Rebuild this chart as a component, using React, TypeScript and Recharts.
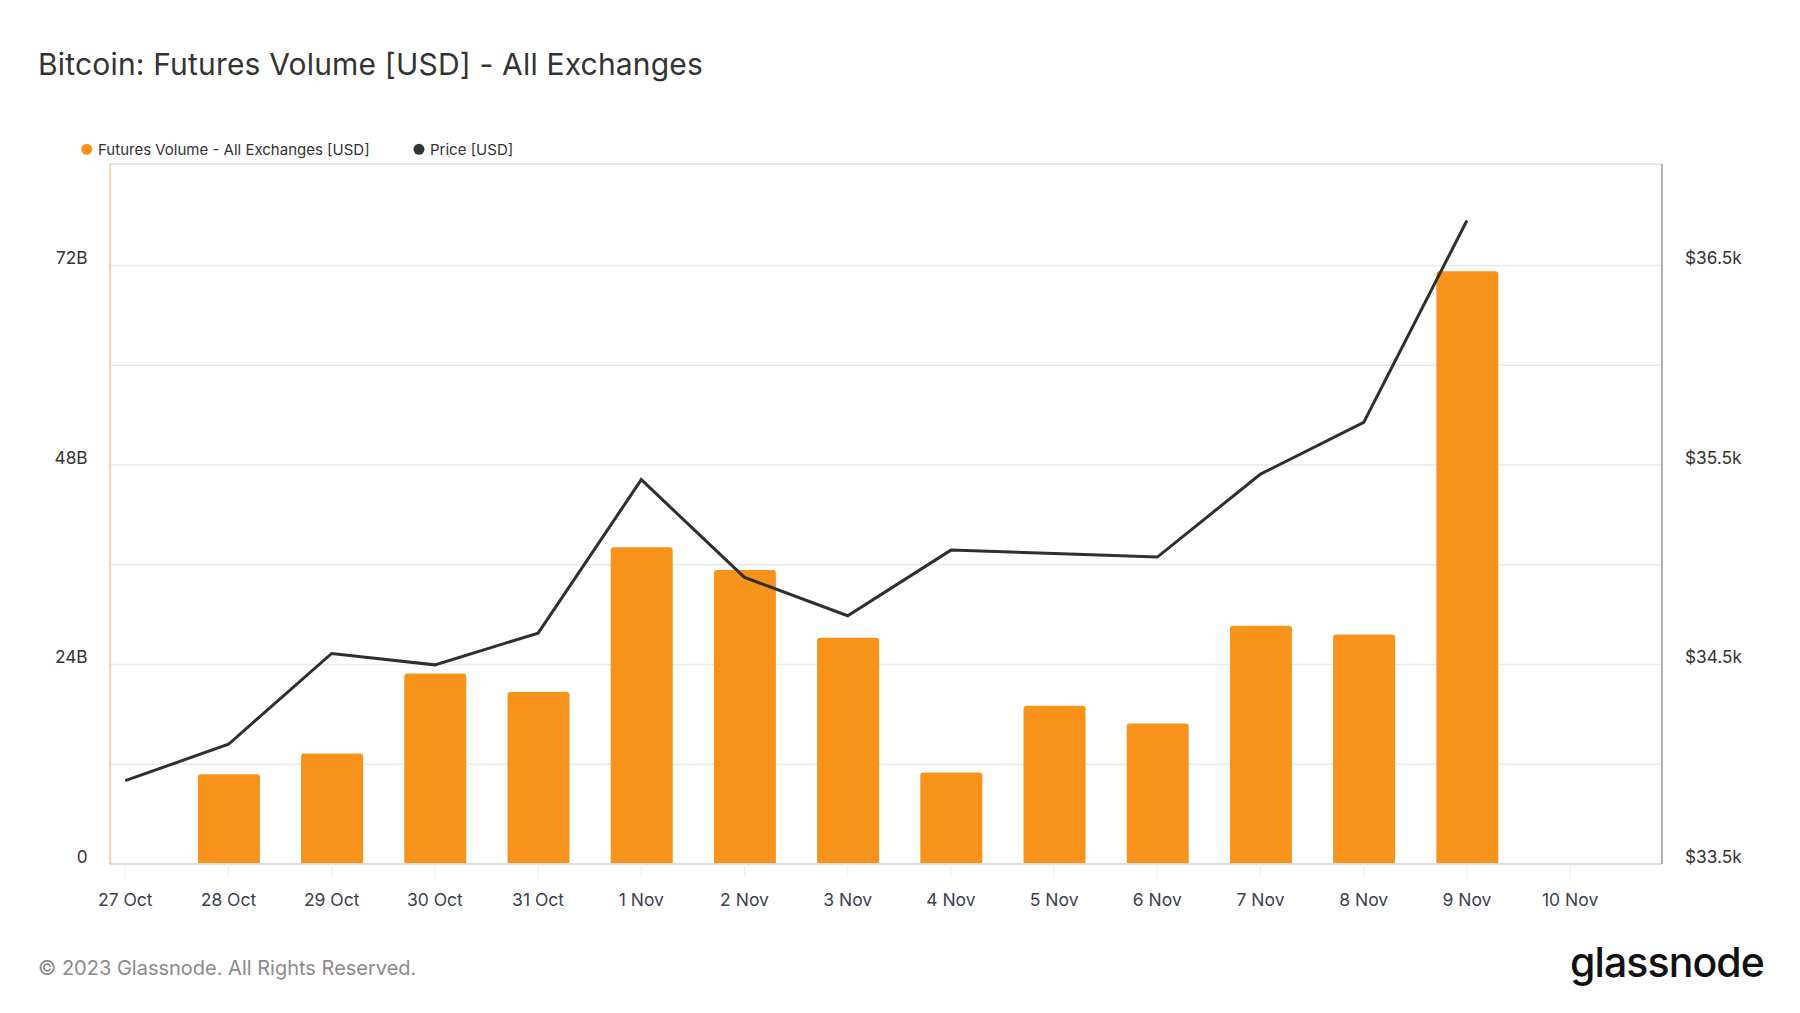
import React from 'react';
import { ComposedChart, Bar, Line, XAxis, YAxis, CartesianGrid, ReferenceLine } from 'recharts';

const dateLabels = ['27 Oct', '28 Oct', '29 Oct', '30 Oct', '31 Oct', '1 Nov', '2 Nov', '3 Nov', '4 Nov', '5 Nov', '6 Nov', '7 Nov', '8 Nov', '9 Nov', '10 Nov'];
const futuresVolumeB: (number | null)[] = [null, 10.8, 13.3, 22.9, 20.7, 38.1, 35.35, 27.2, 11.0, 19.05, 16.9, 28.65, 27.6, 71.3, null];
const priceUSD: (number | null)[] = [33918, 34100, 34555, 34498, 34657, 35426, 34936, 34744, 35073, 35056, 35038, 35454, 35713, 36725, null];
const volumeTicks = [0, 12, 24, 36, 48, 60, 72];
const priceTicks = [33500, 34000, 34500, 35000, 35500, 36000, 36500];

const data = dateLabels.map((d, i) => ({ i, date: d, vol: futuresVolumeB[i], price: priceUSD[i] }));

const ORANGE = '#F7931A';
const FONT = 'Inter, "Noto Sans", sans-serif';

const LeftTick = (props: any) => {
  const { y, payload } = props;
  const v = payload.value;
  if (v % 24 !== 0) return <g />;
  return (
    <text x={87.7} y={y - 7.5} textAnchor="end" dominantBaseline="central" fontSize={17.3} fill="#333" fontFamily={FONT}>
      {v === 0 ? '0' : `${v}B`}
    </text>
  );
};

const RightTick = (props: any) => {
  const { y, payload } = props;
  const v = payload.value;
  if ((v - 33500) % 1000 !== 0) return <g />;
  return (
    <text x={1685} y={y - 7.5} textAnchor="start" dominantBaseline="central" fontSize={17.3} fill="#333" fontFamily={FONT}>
      {`$${(v / 1000).toFixed(1)}k`}
    </text>
  );
};

const BottomTick = (props: any) => {
  const { x, payload } = props;
  return (
    <text x={x} y={899} textAnchor="middle" dominantBaseline="central" fontSize={17.5} fill="#3d4151" fontFamily={FONT}>
      {dateLabels[payload.value]}
    </text>
  );
};

export default function App() {
  return (
    <div style={{ position: 'absolute', left: 0, top: 0, width: 1800, height: 1013, background: '#fff', fontFamily: FONT }}>
      <ComposedChart
        width={1800}
        height={1013}
        data={data}
        margin={{ top: 164, right: 38, bottom: 109, left: 50 }}
        style={{ position: 'absolute', left: 0, top: 0 }}
      >
        <CartesianGrid yAxisId="vol" vertical={false} stroke="#e9e9e9" strokeWidth={1.5} />
        <XAxis
          dataKey="i"
          type="number"
          domain={[-0.148, 14.89]}
          ticks={[0, 1, 2, 3, 4, 5, 6, 7, 8, 9, 10, 11, 12, 13, 14]}
          height={40}
          axisLine={{ stroke: '#dcdcdc', strokeWidth: 2 }}
          tickLine={{ stroke: '#eeeeee' }}
          tickSize={14}
          tick={<BottomTick />}
          interval={0}
          allowDataOverflow
        />
        <YAxis
          yAxisId="vol"
          orientation="left"
          width={60}
          domain={[0, 84.2]}
          ticks={volumeTicks}
          allowDataOverflow
          axisLine={{ stroke: '#fbc88c', strokeWidth: 1.5 }}
          tickLine={false}
          tick={<LeftTick />}
          interval={0}
        />
        <YAxis
          yAxisId="price"
          orientation="right"
          width={100}
          domain={[33500, 37008]}
          ticks={priceTicks}
          allowDataOverflow
          axisLine={{ stroke: '#9a9a9a', strokeWidth: 1.5 }}
          tickLine={false}
          tick={<RightTick />}
          interval={0}
        />
        <ReferenceLine yAxisId="vol" y={84.2} stroke="#e6e6e6" strokeWidth={2} />
        <Bar yAxisId="vol" dataKey="vol" fill={ORANGE} barSize={62} radius={[3, 3, 0, 0]} isAnimationActive={false} />
        <Line
          yAxisId="price"
          dataKey="price"
          type="linear"
          stroke="#2f2f2f"
          strokeWidth={3}
          dot={false}
          activeDot={false}
          isAnimationActive={false}
        />
      </ComposedChart>
      <svg width={1800} height={1013} style={{ position: 'absolute', left: 0, top: 0, pointerEvents: 'none' }}>
        <text x={38} y={75} fontSize={30} fill="#333" fontFamily={FONT} letterSpacing={0.18}>
          Bitcoin: Futures Volume [USD] - All Exchanges
        </text>
        <circle cx={86.7} cy={149.3} r={5.5} fill={ORANGE} />
        <text x={98} y={154.8} fontSize={15} fill="#333" fontFamily={FONT}>
          Futures Volume - All Exchanges [USD]
        </text>
        <circle cx={419} cy={149.3} r={5.5} fill="#333" />
        <text x={430} y={154.8} fontSize={15} fill="#333" fontFamily={FONT}>
          Price [USD]
        </text>
        <text x={38} y={975} fontSize={20} fill="#8a8a8a" fontFamily={FONT}>
          © 2023 Glassnode. All Rights Reserved.
        </text>
        <text x={1570} y={977} fontSize={41} fontWeight={500} fill="#111" fontFamily={FONT} letterSpacing={-0.9}>
          glassnode
        </text>
      </svg>
    </div>
  );
}
